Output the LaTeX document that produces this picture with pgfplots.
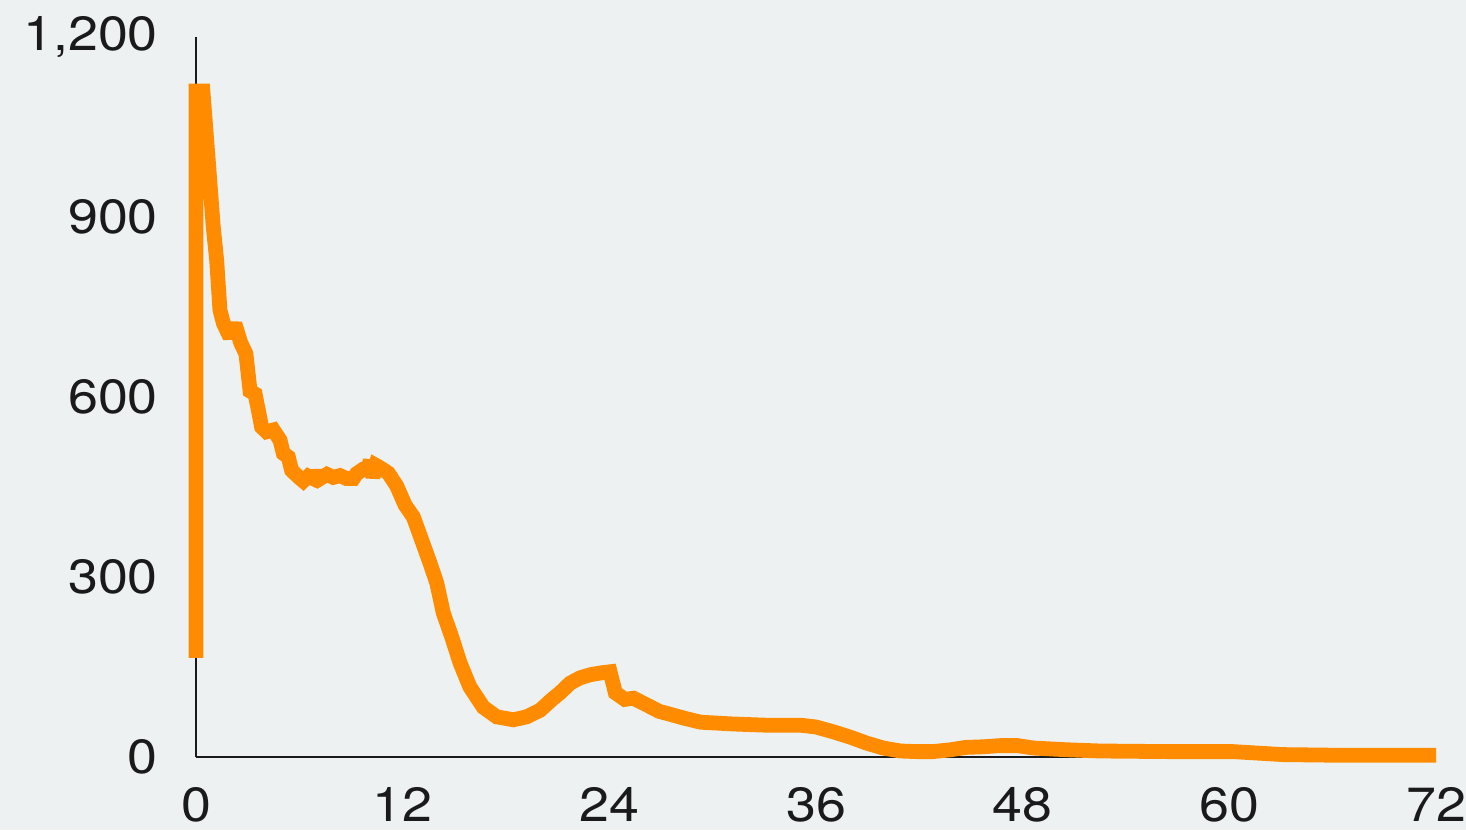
\documentclass[border=0pt]{standalone}
\usepackage{pgfplots}
\pgfplotsset{compat=1.18}
\usepackage{fontspec}
\setmainfont[FakeStretch=1.12]{TeX Gyre Heros}
\usetikzlibrary{backgrounds}
\definecolor{bgcol}{RGB}{237,241,241}
\definecolor{lineorange}{RGB}{255,140,0}
\definecolor{inkcol}{RGB}{26,26,26}

\begin{document}
\begin{tikzpicture}
	\begin{axis}[
		scale only axis,
		width=310pt, height=180pt,
		xmin=0, xmax=72,
		ymin=0, ymax=1200,
		xtick={0,12,...,72},
		ytick={0,300,...,1200},
		axis x line*=bottom,
		axis y line*=left,
		axis line style={inkcol, line width=0.6pt, -},
		major tick length=0pt,
		ticklabel style={font=\fontsize{12}{14}\selectfont, text=inkcol},
		xticklabel style={yshift=-4pt},
		yticklabel style={xshift=-6pt},
		/pgf/number format/assume math mode=true,
		/pgf/number format/1000 sep={,},
		clip=false,
	]
		\coordinate (ll) at (rel axis cs:0,0);
		\coordinate (ur) at (rel axis cs:1,1);
		\addplot[lineorange, line width=3.7pt, mark=none, miter limit=2] coordinates {
			(0,165) (0,1110) (0.4,1110) (0.71,995) (1.0,884) (1.2,828)
			(1.39,745) (1.59,723) (1.97,700) (2.26,722) (2.6,690) (2.9,672)
			(3.14,610) (3.43,605) (3.62,578) (3.81,550) (4.1,542) (4.49,545)
			(4.88,528) (5.07,506) (5.36,500) (5.55,478) (5.94,467) (6.23,460)
			(6.52,468) (6.81,464) (7.0,474) (7.2,464) (7.6,471) (7.97,466)
			(8.36,469) (8.75,464) (9.13,464) (9.32,472) (9.72,480) (10.0,482)
			(10.12,494) (10.27,466) (10.45,486) (10.7,482) (11.17,473) (11.65,452)
			(12.14,420) (12.62,400) (13.1,362) (13.59,323) (13.98,290) (14.36,240)
			(14.85,200) (15.33,157) (15.9,117) (16.68,83) (17.46,67) (18.43,62)
			(19.2,67) (19.98,78) (20.75,98) (21.14,107) (21.72,123) (22.3,132)
			(22.88,137) (23.46,140) (24.04,142) (24.35,107) (24.9,96) (25.4,98)
			(26.36,84) (26.9,76) (27.3,73) (28.3,65) (29.3,58) (31.2,55)
			(33.1,53) (35.1,53) (36.0,50) (37.0,42) (38.0,33) (38.95,23)
			(39.9,15) (40.9,10) (41.85,9) (42.8,9) (43.8,12) (44.7,16)
			(45.7,17) (46.7,19) (47.7,19) (48.6,15) (50.6,12) (52.5,10)
			(56.4,9) (60.2,9) (63.1,4) (66,3) (72,3)
		};
	\end{axis}
	\pgfresetboundingbox
	\path[use as bounding box] ([shift={(-49pt,-18.25pt)}]ll) rectangle ([shift={(7.5pt,9.25pt)}]ur);
	\begin{scope}[on background layer]
		\fill[bgcol] ([shift={(-49pt,-18.25pt)}]ll) rectangle ([shift={(7.5pt,9.25pt)}]ur);
	\end{scope}
\end{tikzpicture}
\end{document}
